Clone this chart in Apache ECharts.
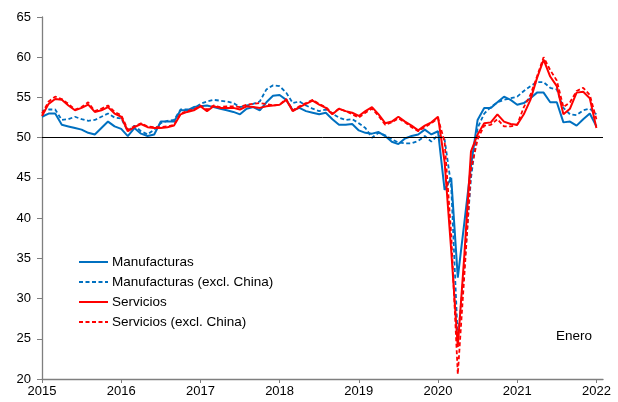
<!DOCTYPE html>
<html>
<head>
<meta charset="utf-8">
<script src="https://cdn.jsdelivr.net/npm/echarts@6/dist/echarts.min.js"></script>
<style>
html,body{margin:0;padding:0;background:#fff;}
#chart{width:618px;height:402px;}
</style>
</head>
<body>
<div id="chart"></div>
<script>
// Monthly data, Jan 2015 .. Jan 2022 (index 0 = Jan 2015)
var yearLabels = ['2015','2016','2017','2018','2019','2020','2021','2022'];
var seriesNames = ['Manufacturas','Manufacturas (excl. China)','Servicios','Servicios (excl. China)'];

var manufacturas = [
52.6,53.0,53.0,51.6,51.4,51.2,51.0,50.6,50.4,51.2,52.0,51.4,
51.1,50.2,51.2,50.5,50.2,50.4,52.0,52.0,52.0,53.4,53.4,53.8,
53.9,54.0,53.8,53.6,53.4,53.2,52.9,53.6,53.8,53.4,54.4,55.2,
55.3,54.7,53.4,53.7,53.3,53.1,52.9,53.1,52.3,51.6,51.6,51.7,
50.9,50.6,50.5,50.7,50.2,49.5,49.2,49.9,50.2,50.4,51.0,50.4,
50.8,43.5,45.0,32.6,39.5,46.5,52.2,53.7,53.7,54.4,55.1,54.7,
54.1,54.3,54.9,55.6,55.6,54.4,54.4,51.9,52.0,51.5,52.3,53.0,
51.4];

var manufacturasExChina = [
53.3,53.5,53.5,52.2,52.3,52.6,52.3,52.1,52.2,52.6,53.0,52.5,
52.4,50.8,51.5,50.8,50.4,51.0,51.8,52.1,52.2,53.5,53.5,53.6,
54.2,54.5,54.7,54.6,54.5,54.3,53.8,54.0,54.2,54.5,56.0,56.5,
56.4,55.6,54.3,54.5,54.0,53.6,53.3,53.5,53.0,52.5,52.2,52.3,
51.8,51.2,50.0,50.6,50.3,49.8,49.4,49.3,49.3,49.6,50.2,49.5,
50.3,49.8,44.0,24.9,34.0,45.0,51.2,53.0,53.8,54.4,54.7,54.9,
55.1,55.8,56.4,56.9,56.9,56.2,56.0,53.7,52.9,52.8,53.4,53.6,
52.9];

var servicios = [
52.7,54.2,54.8,54.7,54.0,53.4,53.7,54.1,53.2,53.4,53.8,53.0,
52.6,50.8,51.3,51.7,51.3,51.2,51.2,51.3,51.5,52.9,53.2,53.4,
53.9,53.3,53.9,53.7,53.7,53.7,53.5,53.9,53.8,53.7,53.9,54.0,
54.1,54.7,53.3,53.8,54.2,54.6,54.1,53.7,52.9,53.6,53.3,53.1,
52.7,53.3,53.8,52.9,51.8,52.0,52.6,52.0,51.5,50.9,51.5,51.9,
52.6,47.0,36.0,24.0,35.5,48.3,50.4,51.8,51.9,52.9,52.0,51.7,
51.6,52.9,54.7,57.4,59.7,57.6,56.4,52.9,53.6,55.6,55.7,54.9,
51.2];

var serviciosExChina = [
53.0,54.5,55.1,54.8,54.2,53.5,53.8,54.4,53.3,53.6,54.0,53.2,
52.8,51.0,51.4,51.8,51.4,51.3,51.3,51.4,51.6,53.0,53.3,53.5,
54.0,53.5,54.0,53.8,53.9,53.9,53.8,54.1,54.2,54.3,54.2,54.0,
54.1,54.8,53.4,53.9,54.3,54.7,54.2,53.8,53.0,53.6,53.3,52.9,
52.5,53.1,53.6,52.7,51.6,51.9,52.4,51.9,51.3,50.8,51.3,51.8,
52.4,49.5,38.0,20.6,33.0,46.0,49.8,51.5,51.6,52.3,51.4,51.4,
51.6,53.8,55.3,57.6,60.0,58.4,57.1,53.8,54.4,55.8,56.2,55.3,
52.3];

function toPairs(arr){ return arr.map(function(v,i){ return [i, v]; }); }

var yearTicks = yearLabels.map(function(_, i){ return i*12; });
var FONT = '"Liberation Sans", Arial, sans-serif';
var BLUE = '#0070C0';
var RED = '#FF0000';

var chart = echarts.init(document.getElementById('chart'));
chart.setOption({
  animation: false,
  backgroundColor: '#fff',
  grid: {left: 42, right: 15, top: 17, bottom: 23, containLabel: false},
  legend: {
    orient: 'vertical',
    left: 78,
    top: 255,
    padding: 0,
    itemWidth: 29,
    itemHeight: 13,
    itemGap: 6,
    itemStyle: {opacity: 0},
    textStyle: {fontFamily: FONT, fontSize: 13.5, color: '#000', padding: [0, 0, 0, -1]},
    data: seriesNames
  },
  xAxis: {
    type: 'value',
    min: 0,
    max: 85,
    interval: 12,
    splitLine: {show: false},
    axisLine: {lineStyle: {color: '#7f7f7f', width: 1.3}},
    axisTick: {show: true, length: 4, lineStyle: {color: '#7f7f7f'}, customValues: yearTicks},
    axisLabel: {
      color: '#000', fontFamily: FONT, fontSize: 13, margin: 6,
      customValues: yearTicks,
      formatter: function(v){ var k = Math.round(v/12); return (v % 12 === 0 && yearLabels[k]) ? yearLabels[k] : ''; }
    }
  },
  yAxis: {
    type: 'value',
    min: 20,
    max: 65,
    interval: 5,
    splitLine: {show: false},
    axisLine: {show: true, lineStyle: {color: '#7f7f7f', width: 1.3}},
    axisTick: {show: true, length: 5, lineStyle: {color: '#7f7f7f'}},
    axisLabel: {color: '#000', fontFamily: FONT, fontSize: 13, margin: 11}
  },
  graphic: [{
    type: 'text',
    left: 556,
    top: 329,
    style: {text: 'Enero', font: '13.5px ' + FONT, fill: '#000'}
  }],
  series: [
    {
      name: seriesNames[0], type: 'line', data: toPairs(manufacturas),
      symbol: 'none', lineStyle: {color: BLUE, width: 2}, itemStyle: {color: BLUE}, z: 2,
      markLine: {
        silent: true, symbol: 'none', label: {show: false},
        lineStyle: {color: '#000', width: 1, type: 'solid'},
        data: [{yAxis: 50}]
      }
    },
    {
      name: seriesNames[1], type: 'line', data: toPairs(manufacturasExChina),
      symbol: 'none', lineStyle: {color: BLUE, width: 1.8, type: [4, 2.5]}, itemStyle: {color: BLUE}, z: 3
    },
    {
      name: seriesNames[2], type: 'line', data: toPairs(servicios),
      symbol: 'none', lineStyle: {color: RED, width: 2}, itemStyle: {color: RED}, z: 4
    },
    {
      name: seriesNames[3], type: 'line', data: toPairs(serviciosExChina),
      symbol: 'none', lineStyle: {color: RED, width: 1.8, type: [4, 2.5]}, itemStyle: {color: RED}, z: 5
    }
  ]
});
</script>
</body>
</html>
